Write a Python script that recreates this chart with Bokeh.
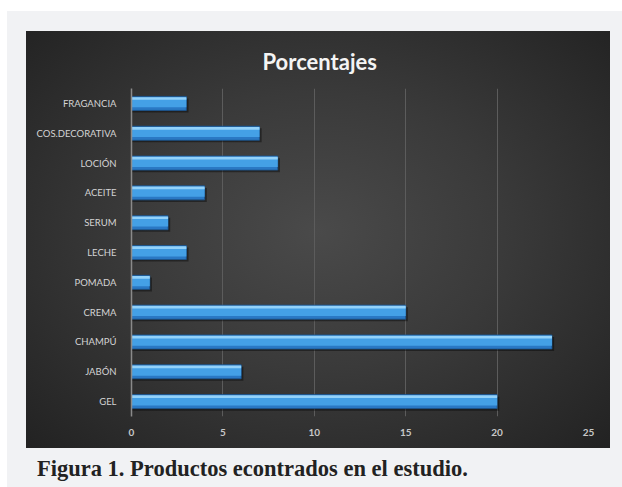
from bokeh.plotting import figure
from bokeh.models import FactorRange, Div, ColumnDataSource, Spacer
from bokeh.layouts import column, row
from bokeh.transform import dodge
from bokeh.embed import file_html
from bokeh.resources import INLINE

categories = ["GEL", "JABÓN", "CHAMPÚ", "CREMA", "POMADA", "LECHE",
              "SERUM", "ACEITE", "LOCIÓN", "COS.DECORATIVA", "FRAGANCIA"]
values = [20, 6, 23, 15, 1, 3, 2, 4, 8, 7, 3]
x_ticks = [0, 5, 10, 15, 20, 25]
title_text = "Porcentajes"
caption_text = "Figura 1. Productos econtrados en el estudio."

src = ColumnDataSource(dict(cat=categories, v=values))

p = figure(width=584, height=417, y_range=FactorRange(factors=categories),
           x_range=(0, 25), output_backend="svg", toolbar_location=None,
           min_border_left=105, min_border_right=22, min_border_top=56,
           min_border_bottom=32)
p.styles = {"background": "radial-gradient(ellipse at 50% 48%, #4a4a4a 0%, #3a3a3a 45%, #222222 100%)"}
p.border_fill_color = None
p.background_fill_color = None
p.outline_line_color = None

p.title.text = title_text
p.title.text_color = "#f4f4f4"
p.title.text_font = "Lato"
p.title.text_font_size = "22px"
p.title.text_font_style = "bold"
p.title.align = "left"
p.title.offset = 131
p.title.standoff = 28

# shadow
p.hbar(y=dodge("cat", -0.07, range=p.y_range), left=0, right=dodge("v", 0.12),
       height=0.47, source=src, fill_color="#000000", fill_alpha=0.4, line_color=None)
# main body
p.hbar(y="cat", left=0, right="v", height=0.47, source=src,
       fill_color="#2a78c4", line_color="#1b5590", line_width=0.8)
p.hbar(y=dodge("cat", 0.03, range=p.y_range), left=0, right="v", height=0.32, source=src,
       fill_color="#44a0e6", line_color=None)
p.hbar(y=dodge("cat", 0.165, range=p.y_range), left=0, right="v", height=0.09, source=src,
       fill_color="#93d2fa", line_color=None)

p.xaxis.ticker = x_ticks
p.xaxis.axis_line_color = None
p.xaxis.major_tick_line_color = None
p.xaxis.minor_tick_line_color = None
p.xaxis.major_label_text_color = "#c8c8c8"
p.xaxis.major_label_text_font = "Lato"
p.xaxis.major_label_text_font_size = "10px"
p.xaxis.major_label_text_font_style = "bold"
p.xaxis.major_label_standoff = 6

p.yaxis.axis_line_color = "#8a8a8a"
p.yaxis.axis_line_width = 1.5
p.yaxis.major_tick_line_color = None
p.yaxis.minor_tick_line_color = None
p.yaxis.major_label_text_color = "#d4d4d4"
p.yaxis.major_label_text_font = "Lato"
p.yaxis.major_label_text_font_size = "9.5px"
p.yaxis.major_label_standoff = 9

p.xgrid.grid_line_color = "#5c5c5c"
p.xgrid.grid_line_width = 1
p.ygrid.grid_line_color = None

cap = Div(text=caption_text, width=570, height=28,
          styles={"font-family": "'Liberation Serif', serif", "font-weight": "bold",
                  "font-size": "22.5px", "color": "#222222", "line-height": "26px",
                  "white-space": "nowrap"})

layout = column(
    Spacer(width=622, height=31),
    row(Spacer(width=26, height=417), p),
    Spacer(width=622, height=3),
    row(Spacer(width=32, height=28), cap),
    width=622, height=487, spacing=0,
    styles={"background": "linear-gradient(#ffffff 11px, rgba(255,255,255,0) 11px), "
                          "linear-gradient(90deg, #ffffff 7px, #f1f2f4 7px)"})

open("out.html", "w").write(file_html(layout, INLINE))
